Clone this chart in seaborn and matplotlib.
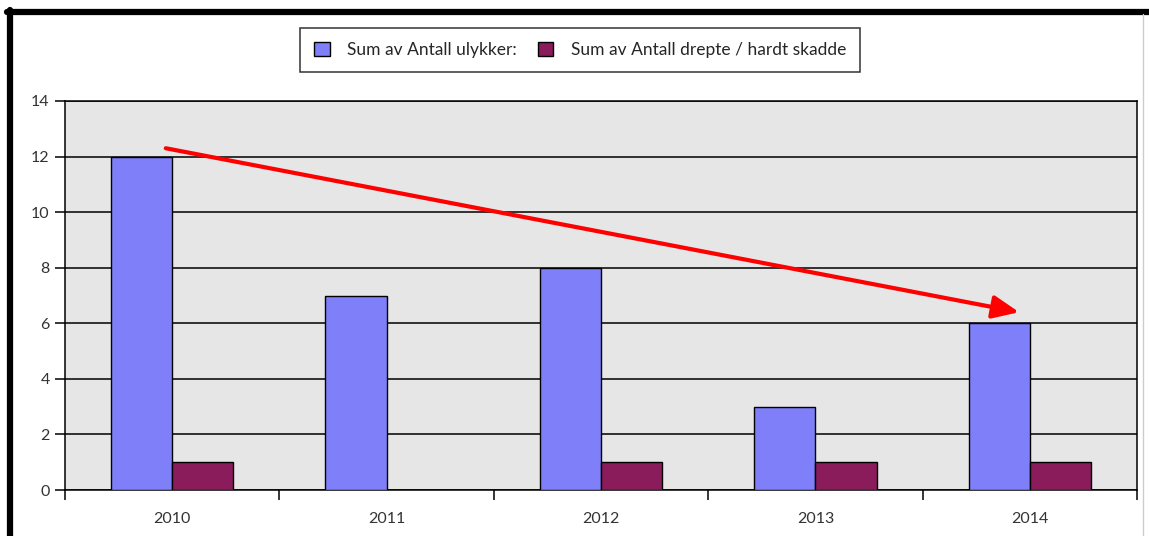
import pandas as pd
import matplotlib
matplotlib.use('Agg')
import matplotlib.pyplot as plt
import seaborn as sns
from matplotlib.lines import Line2D

years = ['2010', '2011', '2012', '2013', '2014']
ulykker = [12, 7, 8, 3, 6]
drepte = [1, 0, 1, 1, 1]
series_names = ['Sum av Antall ulykker:', 'Sum av Antall drepte / hardt skadde']
colors = ['#7F7FFA', '#8A1C5C']
y_ticks = [0, 2, 4, 6, 8, 10, 12, 14]
# trend arrow: start / end (category index, value)
arrow_start = (-0.03, 12.3)
arrow_end = (3.95, 6.4)

data = pd.DataFrame({
    'year': years * 2,
    'value': ulykker + drepte,
    'series': [series_names[0]] * len(years) + [series_names[1]] * len(years),
})

sns.set_style('white')
plt.rcParams['font.family'] = ['Lato', 'DejaVu Sans']

fig = plt.figure(figsize=(11.49, 5.36), dpi=100)
ax = fig.add_axes([65 / 1149, 1 - 490 / 536, (1137 - 65) / 1149, (490 - 101) / 536])

sns.barplot(data=data, x='year', y='value', hue='series', palette=colors, saturation=1,
            width=0.57, edgecolor='black', linewidth=1, ax=ax, zorder=3)

ax.set_facecolor('#E6E6E6')
ax.set_ylim(0, 14)
ax.set_xlim(-0.5, 4.5)
ax.set_yticks(y_ticks)
ax.yaxis.grid(True, color='black', linewidth=1.1, zorder=1)
ax.set_axisbelow(True)
for s in ax.spines.values():
    s.set_visible(True)
    s.set_color('black')
    s.set_linewidth(1.1)

ax.set_xticks(range(len(years)))
ax.set_xticklabels(years)
ax.set_xticks([i - 0.5 for i in range(len(years) + 1)], minor=True)
ax.tick_params(axis='x', which='major', length=0, pad=16, labelsize=11.5, labelcolor='#333333')
ax.tick_params(axis='x', which='minor', length=7, width=1.1, color='black', direction='out', bottom=True)
ax.tick_params(axis='y', length=7, width=1.1, color='black', direction='out', left=True,
               labelsize=11.5, labelcolor='#333333', pad=4)
ax.set_xlabel('')
ax.set_ylabel('')

handles, labels = ax.get_legend_handles_labels()
ax.get_legend().remove()
leg = fig.legend(handles, labels, loc='center', bbox_to_anchor=(0.505, 0.907), ncol=2,
                 frameon=True, fancybox=False, edgecolor='black', fontsize=12.5,
                 handlelength=0.9, handleheight=0.9, columnspacing=1.2, handletextpad=1.0,
                 borderpad=0.8)
leg.get_frame().set_linewidth(1.1)

ax.annotate('', xy=arrow_end, xytext=arrow_start,
            arrowprops=dict(arrowstyle='-|>,head_length=1.6,head_width=0.7', color='#FF0000',
                            lw=3, shrinkA=0, shrinkB=0), zorder=5)

# outer frame
fig.add_artist(Line2D([7 / 1149, 1.0], [1 - 12 / 536, 1 - 12 / 536], color='black', lw=4.5,
                      transform=fig.transFigure))
fig.add_artist(Line2D([10 / 1149, 10 / 1149], [0, 1 - 10 / 536], color='black', lw=4.5,
                      transform=fig.transFigure))
fig.add_artist(Line2D([1143 / 1149, 1143 / 1149], [0, 1 - 14 / 536], color='#CCCCCC', lw=1,
                      transform=fig.transFigure))

fig.savefig('out.png', dpi=100)
